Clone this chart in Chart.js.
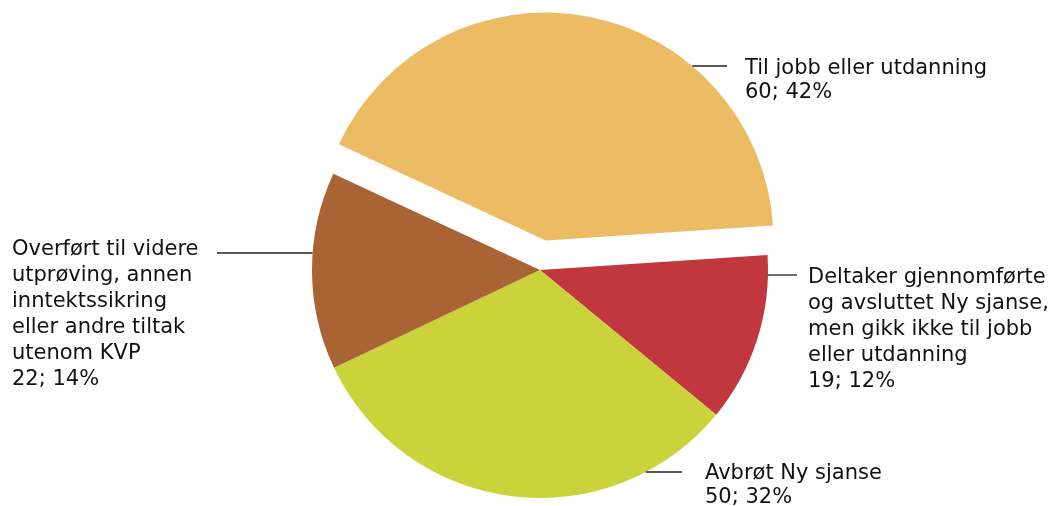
<!DOCTYPE html>
<html>
<head>
<meta charset="utf-8">
<script src="https://cdn.jsdelivr.net/npm/chart.js@4/dist/chart.umd.min.js"></script>
<style>
  html, body { margin: 0; padding: 0; background: #fff; }
</style>
</head>
<body>
<canvas id="pieVis" width="1056" height="506"></canvas>
<script>
// slices in clockwise order, starting with the exploded one
const categories = [
  'Til jobb eller utdanning',
  'Deltaker gjennomførte og avsluttet Ny sjanse, men gikk ikke til jobb eller utdanning',
  'Avbrøt Ny sjanse',
  'Overført til videre utprøving, annen inntektssikring eller andre tiltak utenom KVP'
];
const counts = [60, 19, 50, 22];
const percents = [42, 12, 32, 14];
const colors = ['#EBBC64', '#C0383D', '#CAD43A', '#A96335'];
const explode = [30, 0, 0, 0];

// label text wrapped by hand like the original
const labelLines = [
  ['Til jobb eller utdanning'],
  ['Deltaker gjennomførte', 'og avsluttet Ny sjanse,', 'men gikk ikke til jobb', 'eller utdanning'],
  ['Avbrøt Ny sjanse'],
  ['Overført til videre', 'utprøving, annen', 'inntektssikring', 'eller andre tiltak', 'utenom KVP']
];

// where each callout sits: leader line height, line end, text x, first baseline
const callouts = [
  { side: 1,  lineY: 66,  lineEnd: 727, textX: 745, base: 74,  lh: 24 },
  { side: 1,  lineY: 275, lineEnd: 797, textX: 808, base: 283, lh: 26 },
  { side: 1,  lineY: 472, lineEnd: 682, textX: 705, base: 479, lh: 24 },
  { side: -1, lineY: 253, lineEnd: 217, textX: 12,  base: 255, lh: 26 }
];

function shiftOf(arc, i) {
  const half = (arc.startAngle + arc.endAngle) / 2;
  return { x: Math.cos(half) * explode[i], y: Math.sin(half) * explode[i] };
}

// pull slices out without growing their radius (the built-in offset does)
const explodePlugin = {
  id: 'explode',
  beforeDatasetsDraw(chart) {
    chart.getDatasetMeta(0).data.forEach((arc, i) => {
      if (!explode[i] || arc._exploded) return;
      const orig = arc.draw;
      arc.draw = function(ctx) {
        const s = shiftOf(this, i);
        ctx.save();
        ctx.translate(s.x, s.y);
        orig.call(this, ctx);
        ctx.restore();
      };
      arc._exploded = true;
    });
  }
};

const calloutPlugin = {
  id: 'callouts',
  afterDatasetsDraw(chart) {
    const ctx = chart.ctx;
    const arcs = chart.getDatasetMeta(0).data;
    ctx.save();
    ctx.font = '21px "DejaVu Sans", Verdana, sans-serif';
    ctx.fillStyle = '#111';
    ctx.textBaseline = 'alphabetic';
    arcs.forEach((arc, i) => {
      const c = callouts[i];
      const s = shiftOf(arc, i);
      const cx = arc.x + s.x;
      const cy = arc.y + s.y;
      const dy = c.lineY - cy;
      const dx = Math.sqrt(Math.max(arc.outerRadius * arc.outerRadius - dy * dy, 0));
      const startX = cx + c.side * dx;

      ctx.strokeStyle = '#222';
      ctx.lineWidth = 1.3;
      ctx.beginPath();
      ctx.moveTo(startX, c.lineY);
      ctx.lineTo(c.lineEnd, c.lineY);
      ctx.stroke();

      const lines = labelLines[i].concat([counts[i] + '; ' + percents[i] + '%']);
      lines.forEach((t, k) => {
        ctx.fillText(t, c.textX, c.base + k * c.lh);
      });
    });
    ctx.restore();
  }
};

new Chart(document.getElementById('pieVis'), {
  type: 'pie',
  data: {
    labels: categories,
    datasets: [{
      data: percents,
      backgroundColor: colors,
      borderWidth: 0
    }]
  },
  options: {
    responsive: false,
    animation: false,
    events: [],
    rotation: -65,
    radius: 228,
    layout: { padding: { left: 24, right: 0, top: 34, bottom: 0 } },
    plugins: {
      legend: { display: false },
      tooltip: { enabled: false }
    }
  },
  plugins: [explodePlugin, calloutPlugin]
});
</script>
</body>
</html>
